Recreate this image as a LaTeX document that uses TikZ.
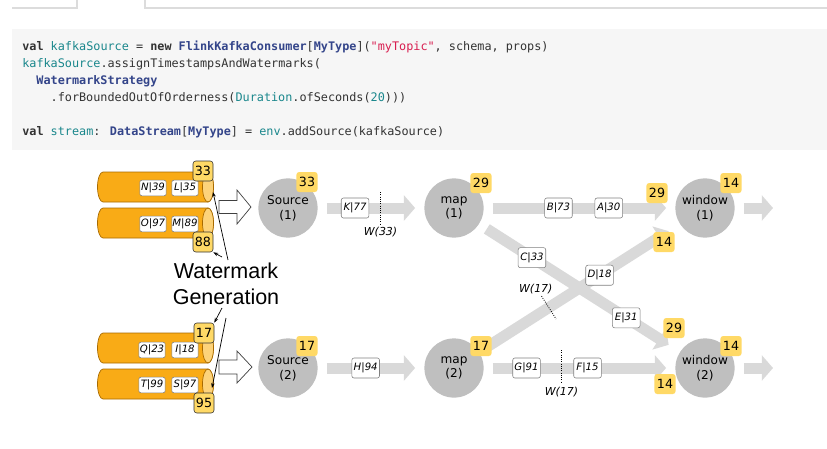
\documentclass[tikz,border=0pt]{standalone}
\usepackage{fontspec}
\setmainfont{DejaVu Sans}
\newfontfamily\codefont{DejaVu Sans Mono}
\newfontfamily\labelfont{Liberation Sans}
\usetikzlibrary{positioning,calc,arrows.meta}

\definecolor{codebg}{HTML}{F6F6F6}
\definecolor{codetxt}{HTML}{333333}
\definecolor{codeid}{HTML}{1A878C}
\definecolor{codety}{HTML}{34458A}
\definecolor{codestr}{HTML}{D81E50}
\definecolor{tabline}{HTML}{DCDCDC}
\definecolor{opgray}{HTML}{BFBFBF}
\definecolor{flowgray}{HTML}{D9D9D9}
\definecolor{stampyellow}{HTML}{FFD966}
\definecolor{kafkabody}{HTML}{F9AB16}
\definecolor{kafkaend}{HTML}{FDD37A}
\definecolor{kafkaline}{HTML}{A86A00}

\newcommand{\px}{0.025cm}
\newcommand{\cKw}[1]{\textbf{#1}}
\newcommand{\cTy}[1]{\textbf{\color{codety}#1}}
\newcommand{\cId}[1]{{\color{codeid}#1}}
\newcommand{\cStr}[1]{{\color{codestr}#1}}

\begin{document}
\begin{tikzpicture}[
    x=\px, y=-\px,
    codeline/.style={anchor=base west, inner sep=0, text=codetxt, font=\codefont\fontsize{8.4}{10}\selectfont},
    op/.style={circle, fill=opgray, minimum size=1.48cm, inner sep=0, align=center, font=\fontsize{8.6}{10.5}\selectfont},
    rec/.style={draw=black!50, fill=white, rounded corners=1.5pt, minimum width=0.69cm, minimum height=0.5cm, inner sep=0, font=\itshape\fontsize{7.2}{8}\selectfont},
    krec/.style={rec, minimum width=0.66cm, minimum height=0.39cm},
    stamp/.style={fill=stampyellow, rounded corners=2pt, minimum width=0.53cm, minimum height=0.5cm, inner sep=0, font=\fontsize{9}{10}\selectfont},
    kstamp/.style={stamp, draw=black!80, minimum width=0.5cm},
    band/.style={draw=flowgray, line width=0.275cm, -{Triangle[width=0.625cm,length=0.28cm]}, shorten <=0.225cm, shorten >=0.225cm},
    diag/.style={band, shorten >=0.33cm},
    wmline/.style={densely dotted, line width=0.6pt},
    wmtext/.style={inner sep=0, font=\itshape\fontsize{7.8}{9}\selectfont},
    wmarrow/.style={line width=0.5pt, -{Stealth[length=3.5pt,width=2.5pt]}},
    hollow/.style={draw=black!75, fill=white, line width=0.5pt, line join=miter},
    cylbody/.style={fill=kafkabody, draw=kafkaline, line width=0.5pt},
    cylend/.style={fill=kafkaend, draw=kafkaline, line width=0.5pt}
]
\useasboundingbox (0,0) rectangle (827,448);

% tab bar and code block
\draw[tabline, line width=1pt] (12,8) -- (77,8) -- (77,0);
\draw[tabline, line width=1pt] (145,0) -- (145,8) -- (827,8);
\fill[codebg] (12,29) rectangle (827,150);

\node[codeline] (code1) at (22,50.5) {\cKw{val} \cId{kafkaSource} = \cKw{new} \cTy{FlinkKafkaConsumer}[\cTy{MyType}](\cStr{"myTopic"}, schema, props)};
\node[codeline] (code2) at (22,67.5) {\cId{kafkaSource}.assignTimestampsAndWatermarks(};
\node[codeline] (code3) at (36.2,84.5) {\cTy{WatermarkStrategy}};
\node[codeline] (code4) at (50.4,101.5) {.forBoundedOutOfOrderness(\cId{Duration}.ofSeconds(\cId{20})))};
\node[codeline] (code5) at (22,135.5) {\cKw{val} \cId{stream}: \cTy{DataStream}[\cTy{MyType}] = \cId{env}.addSource(kafkaSource)};

% Kafka partitions
\foreach \cy in {187,223,348,384} {
    \draw[cylbody] (103,\cy-15) -- (208,\cy-15)
        arc[start angle=90, end angle=-90, x radius=5.5*\px, y radius=15*\px]
        -- (103,\cy+15)
        arc[start angle=270, end angle=90, x radius=5.5*\px, y radius=15*\px] -- cycle;
    \draw[cylend] (208,\cy) ellipse [x radius=5.5*\px, y radius=15*\px];
}

\node[krec] (n39) at (153,188) {N|39};
\node[krec] (l35) at (185,188) {L|35};
\node[krec] (o97) at (153,224) {O|97};
\node[krec] (m89) at (185,224) {M|89};
\node[krec] (q23) at (152,350) {Q|23};
\node[krec] (i18) at (185,350) {I|18};
\node[krec] (t99) at (152,385) {T|99};
\node[krec] (s97) at (185,385) {S|97};

\node[kstamp] (b33) at (203,171) {33};
\node[kstamp] (b88) at (203,242) {88};
\node[kstamp] (b17) at (204,333) {17};
\node[kstamp] (b95) at (204,403) {95};

% hollow arrows into the sources
\begin{scope}[shift={(219,207)}]
    \draw[hollow] (0,-6.5) -- (18,-6.5) -- (18,-17) -- (32,0) -- (18,17) -- (18,6.5) -- (0,6.5) -- cycle;
\end{scope}
\begin{scope}[shift={(219,367)}]
    \draw[hollow] (0,-7) -- (18,-7) -- (18,-16) -- (33,0) -- (18,16) -- (18,7) -- (0,7) -- cycle;
\end{scope}

% Watermark Generation
\node[inner sep=0, align=center, font=\labelfont\fontsize{15.3}{18.5}\selectfont] (wmgen) at (226,284) {Watermark\\Generation};
\coordinate (g1) at (222,257);
\coordinate (g2) at (228,260);
\coordinate (g3) at (222,308);
\coordinate (g4) at (226,318);
\coordinate (end1) at (213,192);
\coordinate (end4) at (212,388);
\draw[wmarrow] (g1) -- (b88.south east);
\draw[wmarrow] (g2) -- (end1);
\draw[wmarrow] (g3) -- (b17.north east);
\draw[wmarrow] (g4) -- (end4);

% operators
\node[op] (src1) at (288,208) {Source\\(1)};
\node[op] (map1) at (454,208) {map\\(1)};
\node[op] (win1) at (705,208) {window\\(1)};
\node[op] (src2) at (288,368) {Source\\(2)};
\node[op] (map2) at (454,368) {map\\(2)};
\node[op] (win2) at (705,368) {window\\(2)};
\coordinate (out1) at (773,208);
\coordinate (out2) at (773,368);

% streams
\draw[band] (src1) -- (map1);
\draw[band] (map1) -- (win1);
\draw[band] (src2) -- (map2);
\draw[band] (map2) -- (win2);
\draw[diag] (map1) -- (win2);
\draw[diag] (map2) -- (win1);
\draw[band, shorten >=0pt] (win1) -- (out1);
\draw[band, shorten >=0pt] (win2) -- (out2);

% records in flight
\path (src1) -- (map1) node[rec, pos=0.35] (k77) {K|77};
\path (map1) -- (win1) node[rec, pos=0.39] (b73) {B|73} node[rec, pos=0.653] (a30) {A|30};
\path (src2) -- (map2) node[rec, pos=0.45] (h94) {H|94};
\path (map2) -- (win2) node[rec, pos=0.223] (g91) {G|91} node[rec, pos=0.542] (f15) {F|15};
\path (map1) -- (win2) node[rec, pos=0.263] (c33) {C|33} node[rec, pos=0.733] (e31) {E|31};
\path (map2) -- (win1) node[rec, pos=0.6] (d18) {D|18};

% watermarks in flight
\path (src1) -- (map1) coordinate[pos=0.59] (wm1);
\draw[wmline] ($(wm1)+(0,-16)$) -- ($(wm1)+(0,17)$);
\node[wmtext] (w33) at ($(wm1)+(0,24)$) {W(33)};
\path (map2) -- (win2) coordinate[pos=0.406] (wm2);
\draw[wmline] ($(wm2)+(0,-18)$) -- ($(wm2)+(0,15)$);
\node[wmtext] (w17b) at ($(wm2)+(0,24)$) {W(17)};
\path (map2) -- (win1) coordinate[pos=0.347] (wm3);
\draw[wmline] ($(wm3)!0.34cm!90:(win1)$) -- ($(wm3)!0.34cm!-90:(win1)$);
\node[wmtext] (w17a) at ($(wm3)+(-13,-19)$) {W(17)};

% timestamps of operators and channels
\node[stamp] (t-src1) at (307,182) {33};
\node[stamp] (t-map1) at (481,183) {29};
\node[stamp] (t-win1) at (731,183) {14};
\node[stamp] (t-in1a) at (657,193) {29};
\node[stamp] (t-in1b) at (664,242) {14};
\node[stamp] (t-src2) at (307,346) {17};
\node[stamp] (t-map2) at (481,346) {17};
\node[stamp] (t-win2) at (731,346) {14};
\node[stamp] (t-in2a) at (674,328) {29};
\node[stamp] (t-in2b) at (665,384) {14};

\end{tikzpicture}
\end{document}
